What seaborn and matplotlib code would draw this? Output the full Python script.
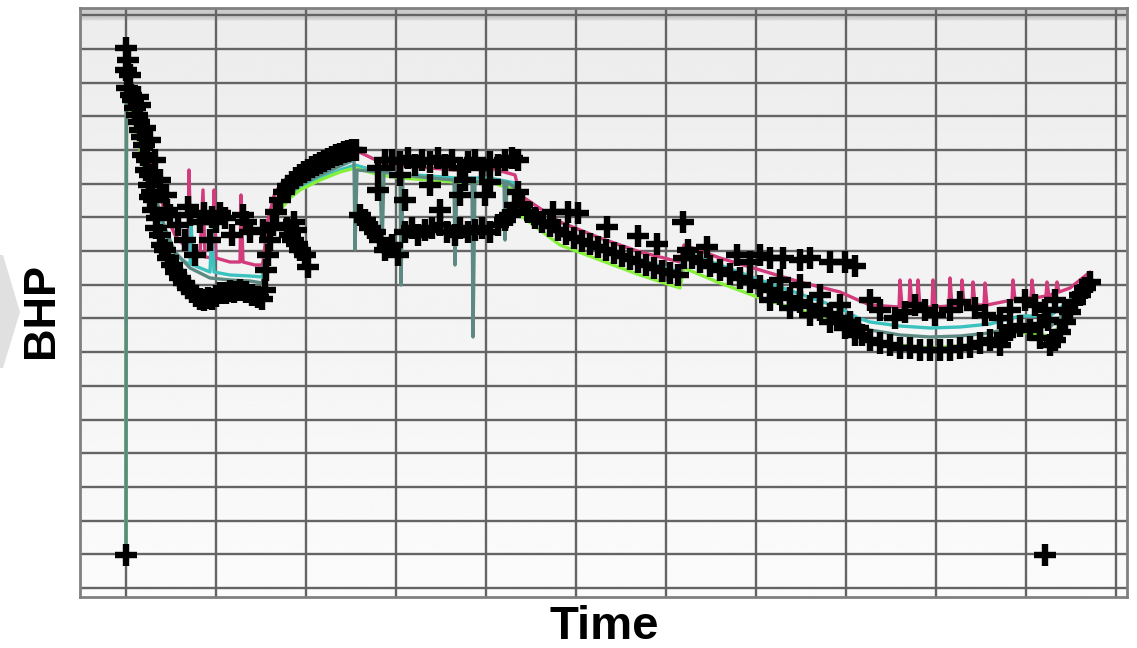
import numpy as np
import pandas as pd
import seaborn as sns
import matplotlib.pyplot as plt
from matplotlib.patches import Polygon

# observed BHP (black crosses): time, bhp
obs_t = [0, 0, 0, 2, 4, 1, 5, 7, 9, 11, 13, 14, 16, 18, 17, 21, 20, 24, 23, 26, 28, 27, 31, 30, 34, 36, 39, 42, 46, 50,
         54, 58, 62, 66, 70, 74, 78, 82, 86, 90, 94, 100, 104, 108, 114, 120, 126, 132, 136,
         12, 14, 19, 24, 29, 34, 24, 40, 41, 44, 52, 62, 64, 74, 78, 86, 90, 94, 99, 106, 117, 120, 124, 137, 59, 69, 84,
         139, 140, 142, 144, 147, 150, 154, 158, 162, 166, 170, 174, 178, 182, 186, 190, 194, 198, 202, 206, 210, 214,
         218, 222, 226, 230, 161, 164, 167, 171, 174, 179, 182, 170, 168,
         252, 259, 266, 274, 282, 289, 296, 304, 312, 319, 326, 334, 342, 349, 356, 364, 372, 379, 386, 392,
         252, 274, 279, 304, 314, 334, 339, 359, 364,
         234, 239, 244, 249, 254, 259, 266, 272, 279, 286, 292, 299, 306, 314, 321, 329, 334, 342, 349, 356, 364, 372,
         379, 384, 389,
         392, 396, 402, 409, 416, 424, 432, 440, 448, 456, 464, 472, 480, 488, 496, 504, 512, 520, 528, 536, 544, 552,
         558, 562, 566, 574, 584, 594, 604, 614, 624, 634, 644, 654, 664, 674, 684, 694, 704, 714, 724, 732,
         427, 442, 452, 481, 512, 531, 557, 581, 611, 624, 634, 644, 657, 674, 684, 704, 719, 729,
         644, 664, 684, 704, 719, 729, 654, 674, 694, 714,
         736, 744, 754, 764, 774, 784, 794, 804, 814, 824, 834, 844, 854, 864, 874, 879, 884, 894, 904, 914, 924, 929,
         934, 939, 944, 949, 954, 959, 964,
         744, 754, 769, 779, 789, 799, 809, 824, 834, 849, 859, 874, 884, 899, 909, 919, 929, 939, 922, 914,
         919]
obs_p = [45, 552, 530, 540, 525, 512, 505, 500, 492, 485, 478, 470, 463, 455, 445, 440, 430, 425, 415, 408, 400, 390,
         382, 372, 365, 355, 350, 342, 335, 328, 322, 317, 312, 308, 304, 301, 300, 302, 301, 304, 307, 307, 309, 308,
         310, 308, 305, 303, 301,
         503, 495, 472, 460, 440, 420, 403, 405, 390, 385, 375, 393, 385, 378, 387, 383, 378, 387, 382, 365, 385, 378,
         368, 370, 360, 345, 360,
         310, 330, 345, 360, 375, 388, 400, 408, 414, 418, 422, 425, 428, 430, 433, 435, 437, 439, 441, 443, 445, 446,
         448, 449, 450, 450, 372, 365, 360, 356, 350, 345, 333, 370, 378,
         432, 440, 440, 438, 442, 435, 440, 438, 442, 435, 440, 432, 438, 440, 432, 438, 435, 440, 442, 440,
         410, 425, 400, 415, 390, 405, 420, 405, 418,
         385, 380, 372, 368, 360, 350, 355, 345, 368, 372, 365, 370, 372, 375, 368, 365, 372, 368, 370, 372, 368, 375,
         380, 385, 395,
         408, 395, 388, 382, 378, 374, 370, 366, 362, 359, 356, 353, 350, 347, 344, 341, 338, 335, 332, 329, 327, 325,
         342, 350, 342, 338, 334, 330, 326, 322, 318, 314, 310, 306, 302, 298, 294, 290, 286, 282, 278, 272,
         388, 388, 387, 373, 364, 356, 378, 353, 345, 338, 345, 342, 342, 340, 342, 338, 338, 334,
         300, 292, 285, 278, 272, 265, 320, 315, 305, 295,
         265, 260, 257, 255, 252, 252, 250, 250, 250, 250, 252, 253, 257, 260, 255, 265, 270, 274, 270, 262, 255, 260,
         268, 278, 288, 298, 305, 312, 318,
         300, 290, 282, 288, 295, 290, 285, 290, 298, 292, 285, 282, 290, 300, 295, 290, 300, 290, 280, 275,
         45]

# simulated ensemble members
teal_t = [0, 0.5, 9, 19, 29, 39, 49, 64, 84, 104, 124, 136, 137, 144, 154, 164, 174, 194, 214, 228, 229, 231, 254,
          256, 258, 274, 275, 277, 304, 328, 329, 331, 346, 347, 349, 364, 378, 379, 381, 389, 394, 434, 474, 514, 554,
          558, 594, 634, 674, 714, 732, 744, 774, 804, 834, 864, 894, 924, 944, 964]
teal_p = [45, 530, 495, 450, 405, 372, 348, 332, 322, 320, 319, 317, 320, 365, 395, 408, 415, 425, 434, 440, 350, 430,
          428, 350, 428, 425, 315, 425, 422, 420, 335, 420, 418, 263, 418, 420, 418, 360, 418, 412, 390, 365, 350, 336,
          323, 343, 330, 315, 300, 285, 277, 270, 265, 263, 264, 267, 275, 273, 292, 317]

pink_t = [0, 0.5, 9, 19, 29, 39, 49, 62, 63, 65, 74, 77, 79, 87, 88, 90, 104, 114, 115, 117, 129, 136, 137, 142, 149,
          159, 174, 194, 214, 229, 254, 274, 304, 329, 364, 389, 394, 434, 474, 514, 554, 558, 594, 634, 674, 714, 732,
          744, 773, 774, 776, 783, 784, 786, 791, 792, 794, 806, 807, 809, 823, 824, 826, 835, 836, 838, 846, 847, 849,
          858, 859, 861, 886, 887, 889, 905, 906, 908, 920, 921, 923, 930, 931, 933, 944, 964]
pink_p = [45, 540, 502, 460, 420, 388, 365, 350, 430, 350, 345, 410, 343, 342, 410, 342, 338, 338, 405, 338, 335, 335,
          338, 380, 408, 420, 428, 438, 445, 450, 438, 435, 432, 430, 432, 425, 405, 378, 362, 348, 338, 355, 342, 330,
          318, 308, 300, 295, 293, 320, 293, 293, 320, 293, 293, 320, 293, 293, 320, 293, 294, 322, 294, 295, 320, 295,
          295, 318, 295, 295, 317, 295, 300, 320, 300, 302, 320, 302, 304, 318, 304, 308, 318, 308, 312, 328]

cyan_t = [0, 0.5, 9, 19, 29, 39, 49, 64, 65, 67, 84, 86, 88, 104, 124, 136, 137, 144, 154, 164, 174, 194, 214, 229,
          254, 274, 304, 329, 364, 389, 394, 434, 474, 514, 554, 558, 594, 634, 674, 714, 732, 744, 774, 804, 834, 864,
          894, 924, 944, 964]
cyan_p = [45, 525, 490, 445, 400, 368, 345, 335, 380, 335, 328, 375, 328, 325, 324, 323, 328, 368, 395, 405, 412, 422,
          430, 435, 428, 426, 424, 422, 422, 417, 395, 370, 354, 340, 328, 348, 335, 320, 306, 292, 282, 278, 274, 272,
          273, 276, 284, 284, 300, 322]

green_t = [0, 0.5, 9, 19, 29, 39, 49, 59, 74, 89, 104, 119, 134, 136, 138, 144, 154, 164, 174, 194, 214, 229, 254,
           274, 304, 329, 364, 389, 394, 434, 474, 514, 554, 558, 594, 634, 674, 714, 732, 744, 774, 804, 834, 864,
           894, 924, 944, 964]
green_p = [45, 510, 475, 428, 385, 350, 328, 315, 305, 303, 305, 307, 308, 308, 320, 360, 390, 402, 410, 420, 428,
           432, 425, 422, 420, 418, 418, 410, 385, 355, 340, 325, 312, 332, 317, 302, 290, 275, 265, 260, 255, 252,
           254, 258, 268, 264, 285, 314]

members = [("pink", pink_t, pink_p, "#d23c7c"),
           ("cyan", cyan_t, cyan_p, "#3cc2be"),
           ("green", green_t, green_p, "#86f03c"),
           ("teal", teal_t, teal_p, "#5c8a82")]

sns.set_style("white")
plt.rcParams['font.family'] = ['Liberation Sans', 'DejaVu Sans']

fig = plt.figure(figsize=(11.37, 6.48), dpi=100)
ax = fig.add_axes([80 / 1137, 51 / 648, 1047 / 1137, 589 / 648])
xlim = (-46, 1001)
ylim = (3, 592)

# soft grey-to-white background
shade = np.linspace(0.925, 0.985, 200)
shade[:4] = 0.80
ax.imshow(shade[:, None], extent=(*xlim, *ylim), aspect='auto', cmap='gray',
          vmin=0, vmax=1, zorder=0.1, interpolation='bilinear')

for name, t, p, c in members:
    sns.lineplot(x=t, y=p, sort=False, estimator=None, color=c, lw=2.4, ax=ax, zorder=2)

df_obs = pd.DataFrame({"time": obs_t, "bhp": obs_p})
sns.scatterplot(data=df_obs, x="time", y="bhp", marker="+", s=230, color="black",
                linewidth=4.6, ax=ax, zorder=3)

ax.set_xlim(*xlim)
ax.set_ylim(*ylim)
ax.set_xticks(np.arange(0, 1000, 90))
ax.set_yticks(12 + 33.7 * np.arange(18))
ax.tick_params(length=0, labelbottom=False, labelleft=False)
ax.set_axisbelow(True)
ax.grid(True, color="#646464", lw=1.7)
for s in ax.spines.values():
    s.set_color("#808080")
    s.set_linewidth(2)
ax.set_xlabel("")
ax.set_ylabel("")

fig.text(604 / 1137, 1 - 627 / 648, "Time", ha="center", va="center",
         fontsize=34, fontweight="bold", color="black")
fig.text(42 / 1137, 1 - 310 / 648, "BHP", ha="center", va="center", rotation=90,
         fontsize=32.5, fontweight="bold", color="black")

# grey chevron on the left edge
chev = [(0, 255), (3, 255), (20, 312), (3, 368), (0, 368)]
fig.patches.append(Polygon([(x / 1137, 1 - y / 648) for x, y in chev], closed=True,
                           transform=fig.transFigure, facecolor="#e0e0e0", edgecolor="none"))

plt.savefig("out.png", dpi=100)
